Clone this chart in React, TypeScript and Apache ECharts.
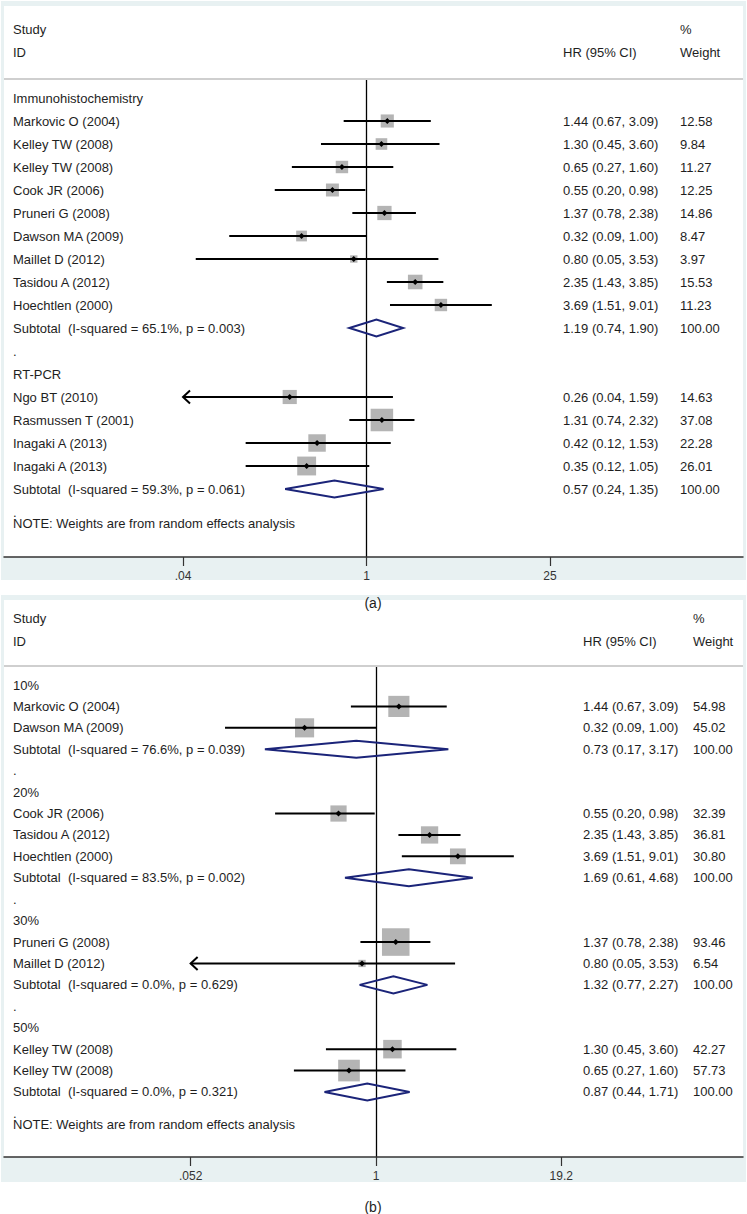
import React, { useEffect, useRef } from "react";
import * as echarts from "echarts";

const FONT = "'Liberation Sans', Arial, Helvetica, sans-serif";
const TEXT_COLOR = "#1e1e1e";
const BOX_COLOR = "#b4b4b4";
const DIAMOND_COLOR = "#1b2479";
const BAND_COLOR = "#e8f1f2";

// ---------------- Panel (a) data ----------------
const groupsA = ["Immunohistochemistry", "RT-PCR"];
const studiesA = [
  ["Markovic O (2004)", "Kelley TW (2008)", "Kelley TW (2008)", "Cook JR (2006)", "Pruneri G (2008)", "Dawson MA (2009)", "Maillet D (2012)", "Tasidou A (2012)", "Hoechtlen (2000)"],
  ["Ngo BT (2010)", "Rasmussen T (2001)", "Inagaki A (2013)", "Inagaki A (2013)"],
];
const hrA = [[1.44, 1.30, 0.65, 0.55, 1.37, 0.32, 0.80, 2.35, 3.69], [0.26, 1.31, 0.42, 0.35]];
const loA = [[0.67, 0.45, 0.27, 0.20, 0.78, 0.09, 0.05, 1.43, 1.51], [0.04, 0.74, 0.12, 0.12]];
const hiA = [[3.09, 3.60, 1.60, 0.98, 2.38, 1.00, 3.53, 3.85, 9.01], [1.59, 2.32, 1.53, 1.05]];
const weightA = [[12.58, 9.84, 11.27, 12.25, 14.86, 8.47, 3.97, 15.53, 11.23], [14.63, 37.08, 22.28, 26.01]];
const subHrA = [1.19, 0.57];
const subLoA = [0.74, 0.24];
const subHiA = [1.90, 1.35];
const i2A = [65.1, 59.3];
const pA = [0.003, 0.061];
const ticksA = [0.04, 1, 25];
const tickLabelsA = [".04", "1", "25"];

// ---------------- Panel (b) data ----------------
const groupsB = ["10%", "20%", "30%", "50%"];
const studiesB = [
  ["Markovic O (2004)", "Dawson MA (2009)"],
  ["Cook JR (2006)", "Tasidou A (2012)", "Hoechtlen (2000)"],
  ["Pruneri G (2008)", "Maillet D (2012)"],
  ["Kelley TW (2008)", "Kelley TW (2008)"],
];
const hrB = [[1.44, 0.32], [0.55, 2.35, 3.69], [1.37, 0.80], [1.30, 0.65]];
const loB = [[0.67, 0.09], [0.20, 1.43, 1.51], [0.78, 0.05], [0.45, 0.27]];
const hiB = [[3.09, 1.00], [0.98, 3.85, 9.01], [2.38, 3.53], [3.60, 1.60]];
const weightB = [[54.98, 45.02], [32.39, 36.81, 30.80], [93.46, 6.54], [42.27, 57.73]];
const subHrB = [0.73, 1.69, 1.32, 0.87];
const subLoB = [0.17, 0.61, 0.77, 0.44];
const subHiB = [3.17, 4.68, 2.27, 1.71];
const i2B = [76.6, 83.5, 0.0, 0.0];
const pB = [0.039, 0.002, 0.629, 0.321];
const ticksB = [0.052, 1, 19.2];
const tickLabelsB = [".052", "1", "19.2"];

const headerStudy = "Study";
const headerId = "ID";
const headerHR = "HR (95% CI)";
const headerPct = "%";
const headerWeight = "Weight";
const noteText = "NOTE: Weights are from random effects analysis";

type Row = {
  kind: "group" | "study" | "sub" | "dot" | "note";
  row: number;
  label: string;
  hr?: number;
  lo?: number;
  hi?: number;
  w?: number;
};

function buildRows(groups: string[], studies: string[][], hr: number[][], lo: number[][], hi: number[][], w: number[][],
  sHr: number[], sLo: number[], sHi: number[], i2: number[], p: number[]): Row[] {
  const rows: Row[] = [];
  let r = 0;
  groups.forEach((g, gi) => {
    rows.push({ kind: "group", row: r++, label: g });
    studies[gi].forEach((s, si) => {
      rows.push({ kind: "study", row: r++, label: s, hr: hr[gi][si], lo: lo[gi][si], hi: hi[gi][si], w: w[gi][si] });
    });
    rows.push({
      kind: "sub", row: r++,
      label: `Subtotal  (I-squared = ${i2[gi].toFixed(1)}%, p = ${p[gi].toFixed(3)})`,
      hr: sHr[gi], lo: sLo[gi], hi: sHi[gi], w: 100,
    });
    rows.push({ kind: "dot", row: r++, label: "." });
  });
  rows.push({ kind: "note", row: r - 0.5, label: noteText });
  return rows;
}

const panels = [
  {
    rows: buildRows(groupsA, studiesA, hrA, loA, hiA, weightA, subHrA, subLoA, subHiA, i2A, pA),
    ticks: ticksA, tickLabels: tickLabelsA, caption: "(a)",
    outerTop: 1, innerTop: 6, headY1: 29, headY2: 52, sepY: 79, row0: 98, step: 23,
    axisY: 557, bandBottom: 580, captionY: 603,
    left: 4, right: 743, x0: 366.5, k: 57, textX: 13, hrX: 563, wX: 680, boxK: 3.7,
  },
  {
    rows: buildRows(groupsB, studiesB, hrB, loB, hiB, weightB, subHrB, subLoB, subHiB, i2B, pB),
    ticks: ticksB, tickLabels: tickLabelsB, caption: "(b)",
    outerTop: 595, innerTop: 600, headY1: 618, headY2: 641, sepY: 666, row0: 685, step: 21.42,
    axisY: 1157, bandBottom: 1182, captionY: 1207,
    left: 4, right: 743, x0: 376, k: 62.7, textX: 13, hrX: 583, wX: 693, boxK: 2.85,
  },
];

function txt(x: number, y: number, text: string, size = 13, align = "left", color = TEXT_COLOR) {
  return {
    type: "text",
    style: { x, y, text, fill: color, font: `${size}px ${FONT}`, align, verticalAlign: "middle" },
  };
}

function buildOption() {
  const graphics: any[] = [];
  panels.forEach((p) => {
    graphics.push({ type: "rect", z: -10, shape: { x: 1, y: p.outerTop, width: 745, height: p.bandBottom - p.outerTop }, style: { fill: BAND_COLOR } });
    graphics.push({ type: "rect", z: -9, shape: { x: p.left, y: p.innerTop, width: p.right - p.left, height: p.axisY - p.innerTop }, style: { fill: "#ffffff" } });
    graphics.push({ type: "line", z: 1, shape: { x1: p.left, y1: p.sepY, x2: p.right, y2: p.sepY }, style: { stroke: "#cfcfcf", lineWidth: 2 } });
    graphics.push({ ...txt(p.textX, p.headY1, headerStudy), z: 10 });
    graphics.push({ ...txt(p.textX, p.headY2, headerId), z: 10 });
    graphics.push({ ...txt(p.hrX, p.headY2, headerHR), z: 10 });
    graphics.push({ ...txt(p.wX, p.headY1, headerPct), z: 10 });
    graphics.push({ ...txt(p.wX, p.headY2, headerWeight), z: 10 });
    graphics.push({ ...txt(373, p.captionY, p.caption, 14, "center"), z: 10 });
  });

  return {
    animation: false,
    grid: panels.map((p) => ({ left: p.left, top: p.sepY, width: p.right - p.left, height: p.axisY - p.sepY, show: false })),
    xAxis: panels.map((p, i) => ({
      gridIndex: i,
      type: "value",
      min: (p.left - p.x0) / p.k,
      max: (p.right - p.x0) / p.k,
      position: "bottom",
      axisLine: { show: true, onZero: false, lineStyle: { color: "#333333", width: 1.5 } },
      axisTick: { show: true, inside: false, length: 9, customValues: p.ticks.map((t) => Math.log(t)), lineStyle: { color: "#333333", width: 1.2 } },
      axisLabel: {
        show: true,
        customValues: p.ticks.map((t) => Math.log(t)),
        margin: 13,
        fontSize: 12,
        fontFamily: FONT,
        color: "#333333",
        formatter: (v: number) => {
          const idx = p.ticks.findIndex((t) => Math.abs(Math.log(t) - v) < 1e-6);
          return idx >= 0 ? p.tickLabels[idx] : "";
        },
      },
      splitLine: { show: false },
    })),
    yAxis: panels.map((p, i) => ({
      gridIndex: i,
      type: "value",
      inverse: true,
      min: (p.sepY - p.row0) / p.step,
      max: (p.axisY - p.row0) / p.step,
      axisLine: { show: true, onZero: true, lineStyle: { color: "#000000", width: 1.3 } },
      axisTick: { show: false },
      axisLabel: { show: false },
      splitLine: { show: false },
    })),
    series: panels.map((p, i) => ({
      type: "custom",
      xAxisIndex: i,
      yAxisIndex: i,
      z: 5,
      clip: false,
      data: p.rows.map((r) => [0, r.row]),
      encode: { x: 0, y: 1 },
      renderItem: (params: any, api: any) => {
        const r = p.rows[params.dataIndex];
        const y = api.coord([0, r.row])[1];
        const children: any[] = [];
        children.push(txt(p.textX, y, r.label));
        if (r.kind === "study" || r.kind === "sub") {
          const minT = p.ticks[0];
          const arrow = (r.lo as number) <= minT + 1e-9;
          const loV = arrow ? minT : (r.lo as number);
          const xl = api.coord([Math.log(loV), r.row])[0];
          const xh = api.coord([Math.log(r.hr as number), r.row])[0];
          const xu = api.coord([Math.log(r.hi as number), r.row])[0];
          if (r.kind === "study") {
            const s = p.boxK * Math.sqrt(r.w as number);
            children.push({ type: "rect", shape: { x: xh - s / 2, y: y - s / 2, width: s, height: s }, style: { fill: BOX_COLOR } });
            children.push({ type: "line", shape: { x1: xl, y1: y, x2: xu, y2: y }, style: { stroke: "#000", lineWidth: 2 } });
            if (arrow) {
              children.push({ type: "polyline", shape: { points: [[xl + 7, y - 6.5], [xl, y], [xl + 7, y + 6.5]] }, style: { stroke: "#000", lineWidth: 2, fill: "none" } });
            }
            const d = 3;
            children.push({ type: "polygon", shape: { points: [[xh - d, y], [xh, y - d], [xh + d, y], [xh, y + d]] }, style: { fill: "#000" } });
          } else {
            const h = 8.5;
            children.push({ type: "polygon", shape: { points: [[xl, y], [xh, y - h], [xu, y], [xh, y + h]] }, style: { fill: "none", stroke: DIAMOND_COLOR, lineWidth: 2 } });
          }
          const hrText = `${(r.hr as number).toFixed(2)} (${(r.lo as number).toFixed(2)}, ${(r.hi as number).toFixed(2)})`;
          children.push(txt(p.hrX, y, hrText));
          children.push(txt(p.wX, y, (r.w as number).toFixed(2)));
        }
        return { type: "group", children };
      },
    })),
    graphic: { elements: graphics },
  };
}

export default function App() {
  const ref = useRef<HTMLDivElement>(null);
  useEffect(() => {
    if (!ref.current) return;
    const chart = echarts.init(ref.current, undefined, { renderer: "svg" });
    chart.setOption(buildOption() as any);
    return () => chart.dispose();
  }, []);
  return (
    <div
      ref={ref}
      style={{ position: "absolute", left: 0, top: 0, width: 747, height: 1214, background: "#ffffff" }}
    />
  );
}
